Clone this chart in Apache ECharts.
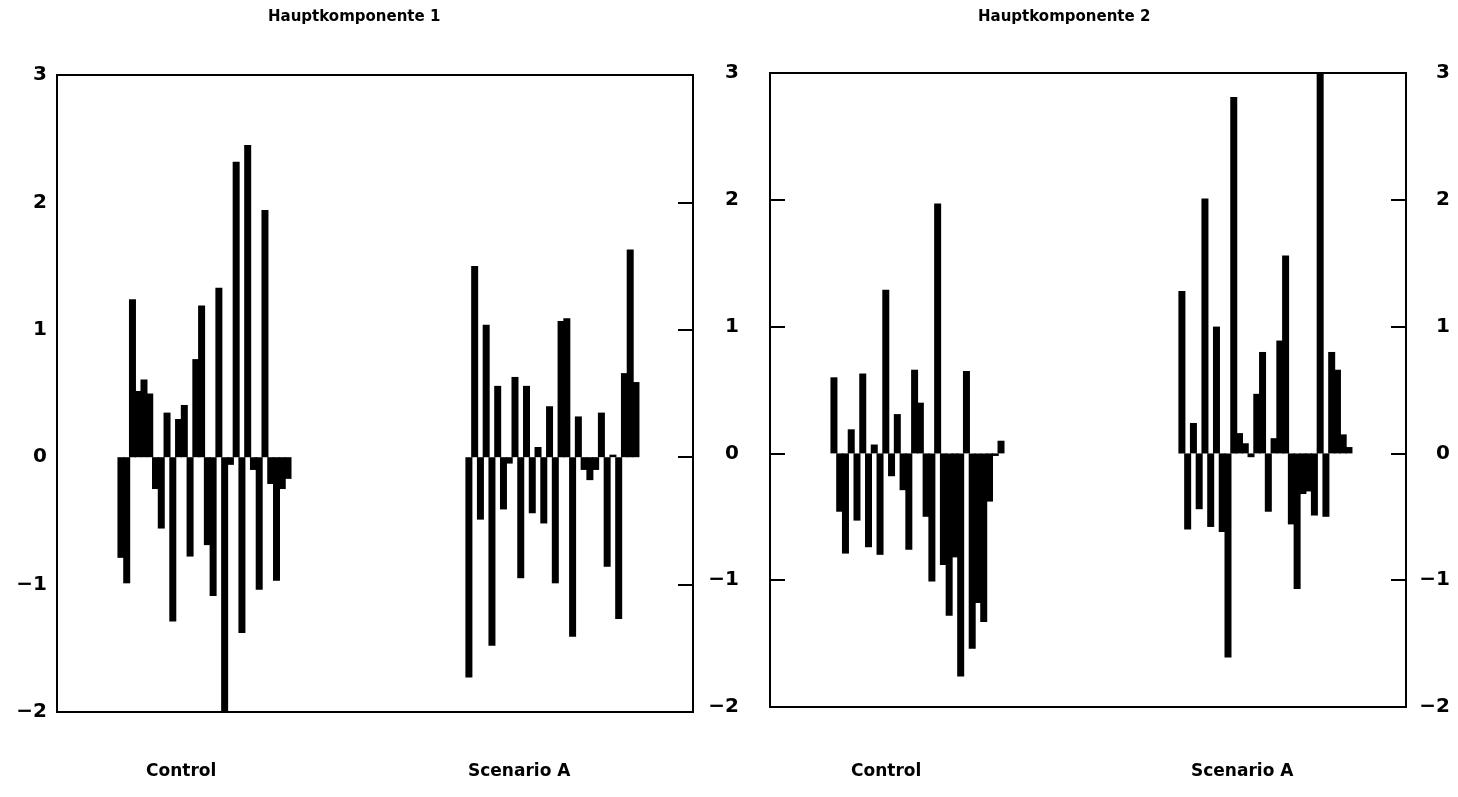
<!DOCTYPE html>
<html>
<head>
<meta charset="utf-8">
<script src="https://cdn.jsdelivr.net/npm/echarts@6/dist/echarts.min.js"></script>
<style>
html,body{margin:0;padding:0;background:#fff;}
#chart{width:1458px;height:797px;}
</style>
</head>
<body>
<div id="chart"></div>
<script>
// ---- data ----
const panelTitles = ['Hauptkomponente 1', 'Hauptkomponente 2'];
const groupNames = ['Control', 'Scenario A'];
const yTicks = [-2, -1, 0, 1, 2, 3];

const pc1Control = [-0.79, -0.99, 1.24, 0.52, 0.61, 0.50, -0.25, -0.56, 0.35, -1.29,
  0.30, 0.41, -0.78, 0.77, 1.19, -0.69, -1.09, 1.33, -2.00, -0.06,
  2.32, -1.38, 2.45, -0.10, -1.04, 1.94, -0.21, -0.97, -0.25, -0.17];
const pc1Scenario = [-1.73, 1.50, -0.49, 1.04, -1.48, 0.56, -0.41, -0.05, 0.63, -0.95,
  0.56, -0.44, 0.08, -0.52, 0.40, -0.99, 1.07, 1.09, -1.41, 0.32,
  -0.10, -0.18, -0.10, 0.35, -0.86, 0.02, -1.27, 0.66, 1.63, 0.59];
const pc2Control = [0.60, -0.46, -0.79, 0.19, -0.53, 0.63, -0.74, 0.07, -0.80, 1.29,
  -0.18, 0.31, -0.29, -0.76, 0.66, 0.40, -0.50, -1.01, 1.97, -0.88,
  -1.28, -0.82, -1.76, 0.65, -1.54, -1.18, -1.33, -0.38, -0.02, 0.10];
const pc2Scenario = [1.28, -0.60, 0.24, -0.44, 2.01, -0.58, 1.00, -0.62, -1.61, 2.81,
  0.16, 0.08, -0.03, 0.47, 0.80, -0.46, 0.12, 0.89, 1.56, -0.56,
  -1.07, -0.32, -0.30, -0.49, 3.00, -0.50, 0.80, 0.66, 0.15, 0.05];

// ---- layout ----
const X_MAX = 110.4;        // slots across a panel
const CONTROL_START = 11.1; // slot of first Control bar
const SCEN_START = 71.5;    // slot of first Scenario bar

function toPairs(arr, start) { return arr.map((v, i) => [start + i, v]); }
const minus = v => (v < 0 ? '\u2212' + Math.abs(v) : String(v));

const grids = [
  { left: 57, top: 75, width: 636, height: 637 },
  { left: 770, top: 73, width: 636, height: 634 }
];

const labelFont = { fontFamily: 'DejaVu Sans', fontWeight: 'bold', fontSize: 20, color: '#000' };
const tickStyle = { show: true, inside: true, length: 15, lineStyle: { color: '#000', width: 2 } };

function txt(text, left, top, size) {
  return { type: 'text', left: left, top: top, silent: true,
    style: { text: text, fontFamily: 'DejaVu Sans', fontWeight: 'bold', fontSize: size, fill: '#000' } };
}

const option = {
  backgroundColor: '#fff',
  animation: false,
  grid: grids.map(g => Object.assign({ show: true, borderColor: '#000', borderWidth: 2, backgroundColor: 'transparent' }, g)),
  xAxis: [0, 1].map(i => ({
    type: 'value', gridIndex: i, min: 0, max: X_MAX,
    axisLine: { show: false }, axisTick: { show: false }, axisLabel: { show: false }, splitLine: { show: false }
  })),
  yAxis: [
    { type: 'value', gridIndex: 0, position: 'left', min: -2, max: 3, interval: 1,
      axisLine: { show: false }, axisTick: { show: false }, splitLine: { show: false },
      axisLabel: Object.assign({ margin: 10, formatter: minus }, labelFont) },
    { type: 'value', gridIndex: 0, position: 'right', min: -2, max: 3, interval: 1,
      axisLine: { show: false }, splitLine: { show: false },
      axisTick: tickStyle, axisLabel: { show: false } },
    { type: 'value', gridIndex: 1, position: 'left', min: -2, max: 3, interval: 1,
      axisLine: { show: false }, splitLine: { show: false },
      axisTick: tickStyle,
      axisLabel: Object.assign({ margin: 31, formatter: minus }, labelFont) },
    { type: 'value', gridIndex: 1, position: 'right', min: -2, max: 3, interval: 1,
      axisLine: { show: false }, splitLine: { show: false },
      axisTick: tickStyle,
      axisLabel: Object.assign({ margin: 44, align: 'right', formatter: minus }, labelFont) }
  ],
  series: [
    { data: toPairs(pc1Control, CONTROL_START), xAxisIndex: 0, yAxisIndex: 0 },
    { data: toPairs(pc1Scenario, SCEN_START), xAxisIndex: 0, yAxisIndex: 0 },
    { data: toPairs(pc2Control, CONTROL_START), xAxisIndex: 1, yAxisIndex: 2 },
    { data: toPairs(pc2Scenario, SCEN_START), xAxisIndex: 1, yAxisIndex: 2 }
  ].map(s => Object.assign({
    type: 'bar', barWidth: 7, barGap: '-100%', silent: true,
    itemStyle: { color: '#000' }
  }, s)),
  graphic: [
    txt(panelTitles[0], 268, 10, 15),
    txt(panelTitles[1], 978, 10, 15),
    txt(groupNames[0], 146, 763, 17),
    txt(groupNames[1], 468, 763, 17),
    txt(groupNames[0], 851, 763, 17),
    txt(groupNames[1], 1191, 763, 17)
  ]
};

const chart = echarts.init(document.getElementById('chart'), null, { renderer: 'canvas' });
chart.setOption(option);
</script>
</body>
</html>
